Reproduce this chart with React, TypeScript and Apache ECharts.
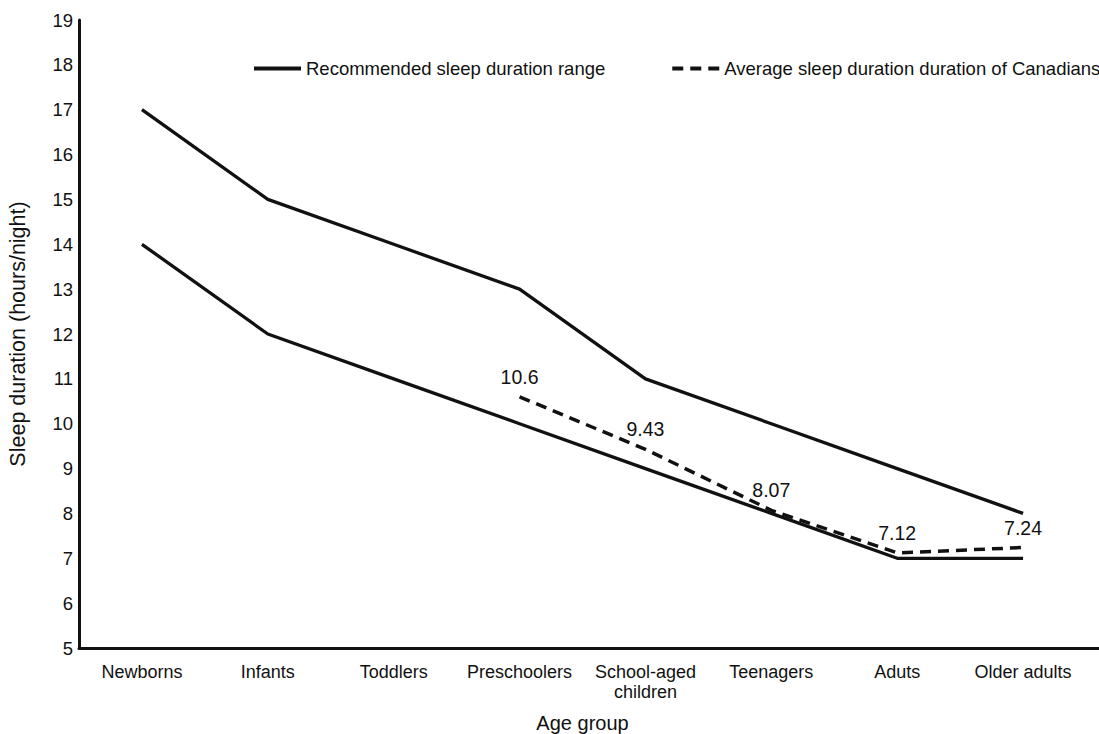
import React, { useEffect, useRef } from "react";
import * as echarts from "echarts";

const categories = [
  "Newborns",
  "Infants",
  "Toddlers",
  "Preschoolers",
  "School-aged\nchildren",
  "Teenagers",
  "Aduts",
  "Older adults",
];
const recommendedUpper = [17, 15, 14, 13, 11, 10, 9, 8];
const recommendedLower = [14, 12, 11, 10, 9, 8, 7, 7];
const averageCanadians = [null, null, null, 10.6, 9.43, 8.07, 7.12, 7.24];
const yTicks = { min: 5, max: 19, interval: 1 };

const FONT = "'Liberation Sans', Arial, sans-serif";
const INK = "#111";

export default function App() {
  const ref = useRef<HTMLDivElement>(null);
  useEffect(() => {
    if (!ref.current) return;
    const chart = echarts.init(ref.current, undefined, { renderer: "svg" });
    const recName = "Recommended sleep duration range";
    const avgName = "Average sleep duration duration of Canadians";
    chart.setOption({
      animation: false,
      backgroundColor: "#fff",
      textStyle: { fontFamily: FONT, color: INK },
      legend: {
        data: [
          { name: recName, itemStyle: { opacity: 0 } },
          { name: avgName, itemStyle: { opacity: 0 } },
        ],
        left: 247,
        top: 54,
        width: 2000,
        itemWidth: 47,
        itemHeight: 16,
        itemGap: 65,
        lineStyle: { width: 4 },
        textStyle: { fontFamily: FONT, fontSize: 18.5, color: INK },
      },
      grid: [
        { left: 79, right: 13, top: 20, bottom: 86, outerBoundsMode: "none" },
        { left: 79, right: 0, top: 20, bottom: 86, outerBoundsMode: "none" },
      ],
      xAxis: [
        {
          type: "category",
          gridIndex: 0,
          data: categories,
          boundaryGap: true,
          name: "Age group",
          nameLocation: "middle",
          nameGap: 65,
          nameMoveOverlap: false,
          nameTextStyle: { fontFamily: FONT, fontSize: 20, color: INK },
          axisLine: { show: false },
          axisTick: { show: false },
          axisLabel: {
            fontFamily: FONT,
            fontSize: 18,
            color: INK,
            margin: 14,
            interval: 0,
            lineHeight: 20,
          },
          splitLine: { show: false },
        },
        {
          type: "value",
          gridIndex: 1,
          min: 0,
          max: 1,
          axisLine: { show: true, onZero: false, lineStyle: { color: INK, width: 3 } },
          axisTick: { show: false },
          axisLabel: { show: false },
          splitLine: { show: false },
        },
      ],
      yAxis: [
        {
          type: "value",
          gridIndex: 0,
          min: yTicks.min,
          max: yTicks.max,
          interval: yTicks.interval,
          name: "Sleep duration (hours/night)",
          nameLocation: "middle",
          nameGap: 50,
          nameMoveOverlap: false,
          nameTextStyle: { fontFamily: FONT, fontSize: 21.5, color: INK },
          axisLine: { show: true, lineStyle: { color: INK, width: 3 } },
          axisTick: { show: false },
          axisLabel: { fontFamily: FONT, fontSize: 18.5, color: INK, margin: 6 },
          splitLine: { show: false },
        },
        {
          type: "value",
          gridIndex: 1,
          min: 0,
          max: 1,
          show: false,
        },
      ],
      series: [
        {
          name: recName,
          type: "line",
          data: recommendedUpper,
          symbol: "circle",
          symbolSize: 0,
          showSymbol: false,
          lineStyle: { color: INK, width: 3.3 },
          itemStyle: { color: INK },
        },
        {
          name: recName,
          type: "line",
          data: recommendedLower,
          symbol: "circle",
          symbolSize: 0,
          showSymbol: false,
          lineStyle: { color: INK, width: 3.3 },
          itemStyle: { color: INK },
        },
        {
          name: avgName,
          type: "line",
          data: averageCanadians,
          symbol: "circle",
          symbolSize: 0,
          showSymbol: true,
          lineStyle: { color: INK, width: 3.5, type: [11, 7] },
          itemStyle: { color: "rgba(0,0,0,0)" },
          label: {
            show: true,
            position: "top",
            distance: 10,
            fontFamily: FONT,
            fontSize: 19.5,
            color: INK,
          },
        },
      ],
    });
    return () => chart.dispose();
  }, []);
  return (
    <div
      ref={ref}
      style={{ position: "fixed", left: 0, top: 0, width: 1099, height: 734 }}
    />
  );
}
